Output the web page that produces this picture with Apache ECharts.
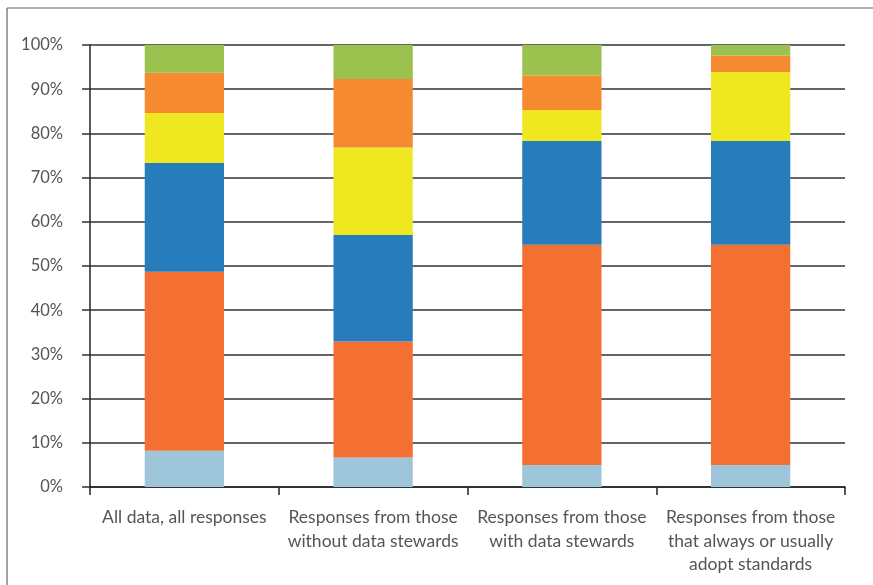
<!DOCTYPE html>
<html>
<head>
<meta charset="utf-8">
<script src="https://cdn.jsdelivr.net/npm/echarts@6/dist/echarts.min.js"></script>
<style>
html,body{margin:0;padding:0;background:#fff;}
#c{width:873px;height:585px;}
</style>
</head>
<body>
<div id="c"></div>
<script>
const categories = [
  "All data, all responses",
  "Responses from those\nwithout data stewards",
  "Responses from those\nwith data stewards",
  "Responses from those\nthat always or usually\nadopt standards"
];
const yTicks = [0,10,20,30,40,50,60,70,80,90,100];
const seriesNames = ["Category 1","Category 2","Category 3","Category 4","Category 5","Category 6"];
const s1 = [8.2, 6.7, 5.0, 5.0];
const s2 = [40.5, 26.2, 49.8, 49.8];
const s3 = [24.6, 24.1, 23.5, 23.5];
const s4 = [11.3, 19.8, 7.0, 15.6];
const s5 = [9.1, 15.5, 7.8, 3.7];
const s6 = [6.3, 7.7, 6.9, 2.4];
const colors = ["#9fc5db","#f37032","#277cbc","#efe820","#f68a31","#9bc14e"];
const seriesData = [s1,s2,s3,s4,s5,s6];

const chart = echarts.init(document.getElementById('c'));
const font = "Lato, 'Open Sans', sans-serif";
chart.setOption({
  animation:false,
  backgroundColor:'#fff',
  grid:{left:90,right:28,top:45,bottom:98,containLabel:false},
  xAxis:{
    type:'category',
    data:categories,
    boundaryGap:true,
    axisLine:{lineStyle:{color:'#222',width:1.5}},
    axisTick:{show:true,length:8,lineStyle:{color:'#222',width:1.5}},
    axisLabel:{color:'#555',fontFamily:font,fontSize:17.5,lineHeight:23.5,margin:19,interval:0}
  },
  yAxis:{
    type:'value',
    min:0,max:100,interval:10,
    axisLine:{show:true,lineStyle:{color:'#222',width:1.5}},
    axisTick:{show:true,length:8,lineStyle:{color:'#333',width:1.5}},
    splitLine:{show:true,lineStyle:{color:'#333',width:1.5}},
    axisLabel:{color:'#555',fontFamily:font,fontSize:16.5,margin:27,
      formatter:v=> yTicks.includes(v) ? v+'%' : ''}
  },
  series: seriesData.map((d,i)=>({
    name:seriesNames[i],
    type:'bar',
    stack:'total',
    data:d,
    barWidth:'42%',
    itemStyle:{color:colors[i]}
  })),
  graphic:[
    {type:'line',shape:{x1:7,y1:8,x2:873,y2:8},style:{stroke:'#666',lineWidth:1.2}},
    {type:'line',shape:{x1:7,y1:8,x2:7,y2:585},style:{stroke:'#666',lineWidth:1.2}}
  ]
});
</script>
</body>
</html>
